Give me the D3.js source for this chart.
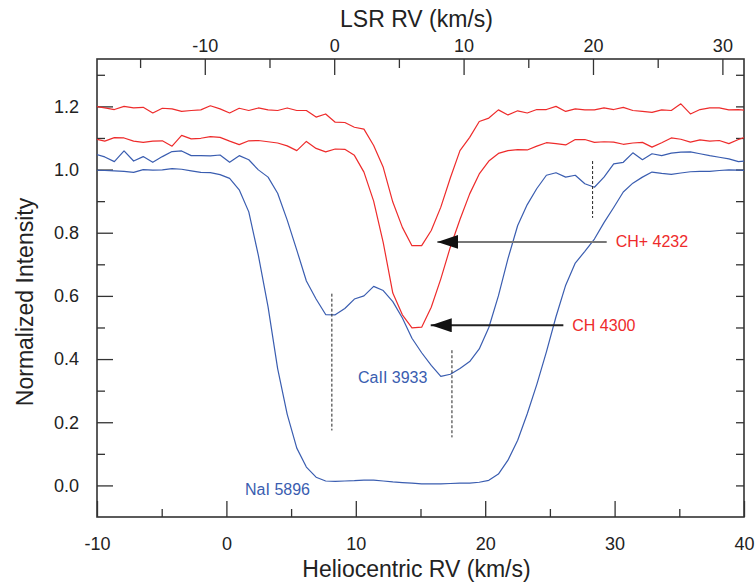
<!DOCTYPE html>
<html>
<head>
<meta charset="utf-8">
<script src="https://cdn.jsdelivr.net/npm/d3@7"></script>
<style>
  body { margin: 0; background: #fff; }
  text { font-family: "Liberation Sans", Arial, sans-serif; fill: #222; }
</style>
</head>
<body>
<div id="chart"></div>
<script>
// heliocentric velocity of each spectrum sample (km/s)
var velocity = [-10.14, -9.40, -8.66, -7.91, -7.17, -6.43, -5.69, -4.95, -4.20, -3.46,
  -2.72, -1.98, -1.24, -0.49, 0.25, 0.99, 1.73, 2.47, 3.22, 3.96,
  4.70, 5.44, 6.18, 6.93, 7.67, 8.41, 9.15, 9.89, 10.63, 11.38,
  12.12, 12.86, 13.60, 14.34, 15.09, 15.83, 16.57, 17.31, 18.05, 18.80,
  19.54, 20.28, 21.02, 21.76, 22.51, 23.25, 23.99, 24.73, 25.47, 26.22,
  26.96, 27.70, 28.44, 29.18, 29.93, 30.67, 31.41, 32.15, 32.89, 33.64,
  34.38, 35.12, 35.86, 36.60, 37.35, 38.09, 38.83, 39.57, 40.31];

// CH+ 4232 (offset +0.2)
var chPlus = [1.200, 1.195, 1.190, 1.200, 1.195, 1.197, 1.179, 1.194, 1.192, 1.184,
  1.187, 1.189, 1.202, 1.192, 1.179, 1.194, 1.187, 1.195, 1.189, 1.187,
  1.195, 1.187, 1.187, 1.166, 1.176, 1.150, 1.149, 1.134, 1.128, 1.076,
  1.007, 0.897, 0.817, 0.759, 0.759, 0.807, 0.881, 0.974, 1.060, 1.102,
  1.152, 1.163, 1.189, 1.173, 1.186, 1.179, 1.190, 1.190, 1.200, 1.184,
  1.192, 1.189, 1.189, 1.195, 1.190, 1.197, 1.187, 1.184, 1.181, 1.189,
  1.187, 1.208, 1.176, 1.190, 1.195, 1.195, 1.189, 1.190, 1.187];

// CH 4300 (offset +0.1)
var ch = [1.097, 1.090, 1.101, 1.100, 1.090, 1.086, 1.090, 1.091, 1.074, 1.108,
  1.097, 1.099, 1.104, 1.102, 1.090, 1.079, 1.091, 1.092, 1.088, 1.084,
  1.075, 1.060, 1.089, 1.067, 1.056, 1.065, 1.064, 1.045, 0.992, 0.900,
  0.769, 0.609, 0.540, 0.499, 0.501, 0.564, 0.654, 0.755, 0.842, 0.923,
  0.986, 1.027, 1.051, 1.060, 1.063, 1.062, 1.074, 1.085, 1.082, 1.078,
  1.095, 1.095, 1.086, 1.088, 1.087, 1.080, 1.084, 1.086, 1.071, 1.085,
  1.100, 1.096, 1.087, 1.094, 1.090, 1.092, 1.082, 1.095, 1.105];

// CaII 3933 (offset +0.05)
var caII = [1.049, 1.040, 1.025, 1.059, 1.027, 1.041, 1.023, 1.041, 1.057, 1.059,
  1.044, 1.044, 1.043, 1.046, 1.023, 1.044, 1.031, 0.999, 0.976, 0.925,
  0.840, 0.745, 0.647, 0.590, 0.541, 0.540, 0.560, 0.590, 0.600, 0.630,
  0.617, 0.582, 0.530, 0.466, 0.420, 0.380, 0.345, 0.352, 0.370, 0.392,
  0.432, 0.500, 0.600, 0.718, 0.823, 0.889, 0.940, 0.982, 0.990, 0.976,
  0.982, 0.955, 0.944, 0.976, 1.018, 1.023, 1.053, 1.031, 1.050, 1.044,
  1.052, 1.055, 1.056, 1.050, 1.044, 1.039, 1.034, 1.025, 1.028];

// NaI 5896
var naI = [0.998, 0.997, 0.996, 0.994, 0.991, 1.000, 0.998, 0.999, 1.003, 1.001,
  0.996, 0.991, 0.990, 0.984, 0.972, 0.936, 0.866, 0.728, 0.565, 0.370,
  0.225, 0.118, 0.058, 0.026, 0.014, 0.013, 0.014, 0.015, 0.017, 0.017,
  0.014, 0.011, 0.009, 0.007, 0.005, 0.005, 0.005, 0.006, 0.007, 0.007,
  0.010, 0.016, 0.036, 0.080, 0.143, 0.227, 0.320, 0.423, 0.534, 0.634,
  0.704, 0.741, 0.780, 0.832, 0.880, 0.929, 0.957, 0.976, 0.992, 0.988,
  0.985, 0.989, 0.993, 0.994, 0.994, 0.997, 0.999, 0.998, 0.997];

// LSR = heliocentric - lsrOffset
var lsrOffset = 8.33;

// tick values
var helioTicks = [-10, 0, 10, 20, 30, 40];
var helioMinor = [-5, 5, 15, 25, 35];
var lsrTicks = [-10, 0, 10, 20, 30];
var lsrMinor = [-15, -5, 5, 15, 25];
var yTicks = [0, 0.2, 0.4, 0.6, 0.8, 1.0, 1.2];
var yMinor = [0.1, 0.3, 0.5, 0.7, 0.9, 1.1, 1.3];
var yRight = [0, 0.1, 0.2, 0.3, 0.4, 0.5, 0.6, 0.7, 0.8, 0.9, 1.0, 1.1, 1.2, 1.3];

// line labels, arrows, velocity markers (data coordinates)
var labels = [
  {text: "CH+ 4232", v: 30.08, val: 0.771, color: "#ee2b2b"},
  {text: "CH 4300", v: 26.73, val: 0.507, color: "#ee2b2b"},
  {text: "CaII 3933", v: 10.17, val: 0.323, color: "#3a5db0"},
  {text: "NaI 5896", v: 1.44, val: -0.029, color: "#3a5db0"}
];
var arrows = [
  {from: 29.39, to: 16.30, val: 0.771, color: "#777"},
  {from: 26.04, to: 15.79, val: 0.507, color: "#222"}
];
var markers = [
  {v: 8.15, top: 0.607, bottom: 0.174},
  {v: 17.43, top: 0.428, bottom: 0.152},
  {v: 28.30, top: 1.027, bottom: 0.847}
];

var width = 755, height = 588;
var margin = {top: 59, right: 11, bottom: 71, left: 97};
var w = width - margin.left - margin.right;
var h = height - margin.top - margin.bottom;

var svg = d3.select("#chart").append("svg")
    .attr("width", width)
    .attr("height", height)
  .append("g")
    .attr("transform", "translate(" + margin.left + "," + margin.top + ")");

var x = d3.scaleLinear().domain([-10, 40]).range([0, w]);
var xTop = d3.scaleLinear().domain([-10 - lsrOffset, 40 - lsrOffset]).range([0, w]);
var y = d3.scaleLinear().domain([-0.1, 1.35]).range([h, 0]);

svg.append("clipPath").attr("id", "plot-clip")
  .append("rect").attr("width", w).attr("height", h);

var fmtInt = function(d) { return String(d); };

// bottom axis, ticks point inward
svg.append("g").attr("class", "axis")
    .attr("transform", "translate(0," + h + ")")
    .call(d3.axisBottom(x).tickValues(helioMinor).tickSize(-8).tickFormat(""));
svg.append("g").attr("class", "axis")
    .attr("transform", "translate(0," + h + ")")
    .call(d3.axisBottom(x).tickValues(helioTicks).tickSize(-16).tickPadding(20).tickFormat(fmtInt));

// top axis (LSR)
svg.append("g").attr("class", "axis")
    .call(d3.axisTop(xTop).tickValues(lsrMinor).tickSize(-9).tickFormat(""));
svg.append("g").attr("class", "axis")
    .call(d3.axisTop(xTop).tickValues(lsrTicks).tickSize(-16).tickPadding(7).tickFormat(fmtInt));

// left axis
svg.append("g").attr("class", "axis")
    .call(d3.axisLeft(y).tickValues(yMinor).tickSize(-8).tickFormat(""));
svg.append("g").attr("class", "axis")
    .call(d3.axisLeft(y).tickValues(yTicks).tickSize(-16).tickPadding(18).tickFormat(d3.format(".1f")));

// right axis
svg.append("g").attr("class", "axis")
    .attr("transform", "translate(" + w + ",0)")
    .call(d3.axisRight(y).tickValues(yRight).tickSize(-8).tickFormat(""));

svg.selectAll(".axis .domain").remove();
svg.selectAll(".axis line").attr("stroke", "#333").attr("stroke-width", 1.3);
svg.selectAll(".axis text")
    .style("font-family", "'Liberation Sans', Arial, sans-serif")
    .style("font-size", "18px")
    .attr("fill", "#222");

// frame
svg.append("rect")
    .attr("width", w)
    .attr("height", h)
    .attr("fill", "none")
    .attr("stroke", "#333")
    .attr("stroke-width", 1.6);

// spectra
var series = [
  {values: chPlus, color: "#ee2b2b"},
  {values: ch, color: "#ee2b2b"},
  {values: caII, color: "#3a5db0"},
  {values: naI, color: "#3a5db0"}
];

var line = d3.line()
    .x(function(d, i) { return x(velocity[i]); })
    .y(function(d) { return y(d); });

svg.append("g").attr("clip-path", "url(#plot-clip)")
  .selectAll("path")
  .data(series)
  .enter().append("path")
    .attr("d", function(d) { return line(d.values); })
    .attr("fill", "none")
    .attr("stroke", function(d) { return d.color; })
    .attr("stroke-width", 1.2)
    .attr("stroke-linejoin", "round");

// velocity component markers
svg.selectAll(".marker")
  .data(markers)
  .enter().append("line")
    .attr("class", "marker")
    .attr("x1", function(d) { return x(d.v); })
    .attr("x2", function(d) { return x(d.v); })
    .attr("y1", function(d) { return y(d.top); })
    .attr("y2", function(d) { return y(d.bottom); })
    .attr("stroke", "#222")
    .attr("stroke-width", 1)
    .attr("stroke-dasharray", "3,2");

// arrows
svg.append("defs").append("marker")
    .attr("id", "head")
    .attr("markerUnits", "userSpaceOnUse")
    .attr("viewBox", "0 -7 21 14")
    .attr("refX", 21)
    .attr("refY", 0)
    .attr("markerWidth", 21)
    .attr("markerHeight", 14)
    .attr("orient", "auto")
  .append("path")
    .attr("d", "M0,-7L21,0L0,7Z")
    .attr("fill", "#111");

svg.selectAll(".arrow")
  .data(arrows)
  .enter().append("line")
    .attr("class", "arrow")
    .attr("x1", function(d) { return x(d.from); })
    .attr("x2", function(d) { return x(d.to); })
    .attr("y1", function(d) { return y(d.val); })
    .attr("y2", function(d) { return y(d.val); })
    .attr("stroke", function(d) { return d.color; })
    .attr("stroke-width", 2)
    .attr("marker-end", "url(#head)");

// line labels
svg.selectAll(".label")
  .data(labels)
  .enter().append("text")
    .attr("class", "label")
    .attr("x", function(d) { return x(d.v); })
    .attr("y", function(d) { return y(d.val); })
    .attr("dy", function(d) { return d.text.indexOf("CH") === 0 ? "0.35em" : "0"; })
    .style("font-size", "16px")
    .style("fill", function(d) { return d.color; })
    .text(function(d) { return d.text; });

// axis titles
svg.append("text")
    .attr("x", w / 2 - 4)
    .attr("y", h + 60)
    .style("text-anchor", "middle")
    .style("font-size", "23px")
    .text("Heliocentric RV (km/s)");

svg.append("text")
    .attr("x", w / 2 - 4)
    .attr("y", -32)
    .style("text-anchor", "middle")
    .style("font-size", "23px")
    .text("LSR RV (km/s)");

svg.append("text")
    .attr("transform", "rotate(-90)")
    .attr("x", -(h / 2 + 14))
    .attr("y", -64)
    .style("text-anchor", "middle")
    .style("font-size", "23px")
    .text("Normalized Intensity");
</script>
</body>
</html>
